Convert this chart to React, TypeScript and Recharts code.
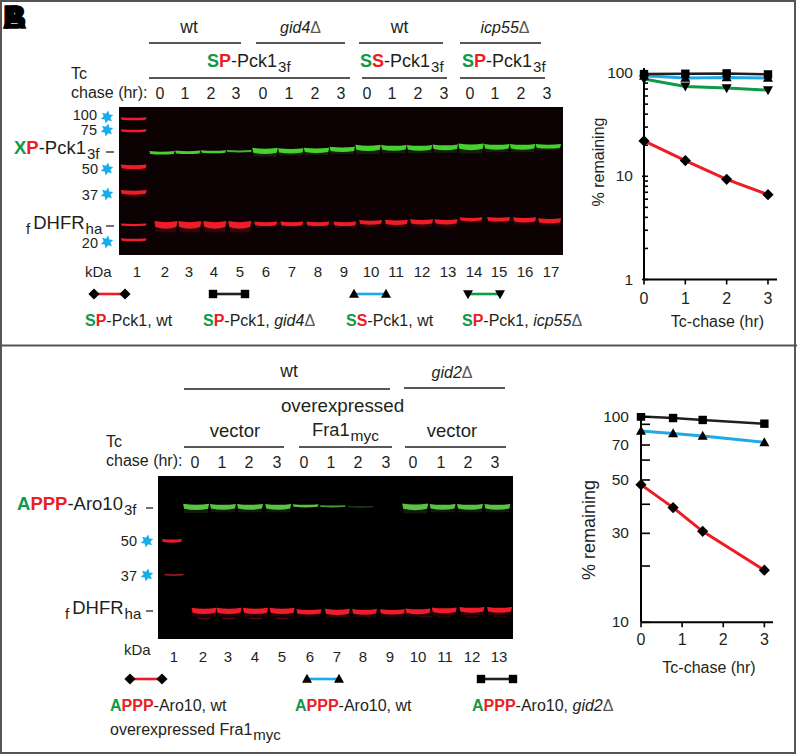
import React from 'react'
import { LineChart, Line, XAxis, YAxis, ScatterChart, Scatter } from 'recharts'

// graph A: % remaining vs chase time
const timesA = [0, 1, 2, 3]
const spWt = [22, 14.2, 9.35, 6.64]
const spGid4 = [97.8, 98.5, 99.3, 97]
const ssWt = [94, 89.5, 90.8, 89.5]
const spIcp55 = [87.5, 74.3, 71.5, 68.4]
const ticksA = [1, 2, 3, 4, 5, 6, 7, 8, 9, 10, 20, 30, 40, 50, 60, 70, 80, 90, 100]
const labelsA = [1, 10, 100]

// graph B
const timesB = [0, 0.78, 1.5, 3]
const apppFra1 = [47.9, 38.7, 30.6, 19]
const apppVector = [83, 80.5, 78.2, 72.3]
const apppGid2 = [100.5, 98.5, 95.8, 90.8]
const ticksB = [10, 20, 30, 40, 50, 60, 70, 90, 100]
const labelsB = [10, 30, 50, 70, 100]

// the printed y axis of graph B is not a true log axis, so its spacing is read off the picture:
// axis value and how far up the axis it sits (0 bottom, 1 top)
const axisValuesB = [10, 20, 30, 40, 50, 60, 70, 90, 100, 105]
const axisHeightsB = [0, 0.269, 0.425, 0.564, 0.68, 0.775, 0.847, 0.946, 0.981, 1]

// blot A: lanes, migration from gel top, relative signal
const lanesA = [2, 3, 4, 5, 6, 7, 8, 9, 10, 11, 12, 13, 14, 15, 16, 17]
const greenMigA = [46, 45.5, 45, 44.5, 44, 44, 43.5, 42.5, 41, 41, 41, 40.5, 40, 40, 40, 39.5]
const greenSignalA = [0.33, 0.33, 0.25, 0.17, 0.75, 0.6, 0.6, 0.6, 0.8, 0.7, 0.7, 0.7, 0.85, 0.7, 0.7, 0.5]
const redLanesA = [2.15, 3.08, 4.05, 5.02, 6.03, 7.04, 8.05, 9.1, 10.1, 11.1, 12.08, 13.03, 14, 15.07, 16.08, 17.05]
const redMigA = [118, 118, 118, 118, 117, 117, 117, 117, 115.5, 115.5, 115, 115, 112.5, 112.5, 113, 114]
const redSignalA = [1, 1, 1, 1, 0.5, 0.5, 0.5, 0.5, 0.55, 0.6, 0.65, 0.65, 0.45, 0.5, 0.6, 0.65]
const ladderLaneA = [0.9, 0.9, 0.9, 0.9, 0.9, 0.9]
const ladderMigA = [12, 24, 60, 85.5, 118, 133]
const ladderSignalA = [0.25, 0.25, 0.5, 0.55, 0.2, 0.25]

// blot B
const greenLanesB = [2, 2.98, 3.97, 5, 6, 6.99, 8, 10, 11, 12, 13]
const greenMigB = [31, 31, 31, 31, 30, 30.5, 31, 31, 31, 31, 31]
const greenSignalB = [0.8, 0.7, 0.7, 0.7, 0.3, 0.15, 0.04, 0.85, 0.7, 0.7, 0.7]
const redLanesB = [2.29, 3.2, 4.17, 5.14, 6.12, 7.16, 8.15, 9.17, 10.1, 11.06, 12.07, 13.08]
const redMigB = [135, 135, 135, 135, 136, 136, 136, 136, 135.5, 134.5, 134, 134]
const redSignalB = [0.75, 0.75, 0.75, 0.75, 0.6, 0.75, 0.7, 0.65, 0.7, 0.7, 0.7, 0.7]
const faintLanesB = [2.29, 3.2, 4.17, 5.14, 10.4, 11.06, 12.07, 13.08]
const faintMigB = [142.5, 142.5, 142.5, 142.5, 141, 141, 141, 141]
const faintSignalB = [0.05, 0.05, 0.05, 0.05, 0.02, 0.02, 0.02, 0.02]
const ladderLaneB = [1.12, 1.2]
const ladderMigB = [65, 99]
const ladderSignalB = [0.4, 0.12]

const RED = '#ee1c25'
const GREEN = '#0f9a48'
const BLUE = '#1fa9e6'
const INK = '#231f20'
const FONT = '"Liberation Sans", Arial, sans-serif'

const rows = (lanes: number[], mig: number[], signal: number[]) =>
  lanes.map((lane, i) => ({ lane, migration: mig[i], signal: signal[i] }))

// piecewise log scale with the d3 surface recharts asks for
function printedScale(values: number[], heights: number[]) {
  let dom = [values[0], values[values.length - 1]]
  let rng = [0, 1]
  const s: any = (v: number) => {
    let i = 0
    while (i < values.length - 2 && v > values[i + 1]) i++
    const f = (Math.log10(v) - Math.log10(values[i])) / (Math.log10(values[i + 1]) - Math.log10(values[i]))
    const h = heights[i] + f * (heights[i + 1] - heights[i])
    return rng[0] + h * (rng[1] - rng[0])
  }
  s.domain = (d?: number[]) => (d ? ((dom = d), s) : dom)
  s.range = (r?: number[]) => (r ? ((rng = r), s) : rng)
  s.copy = () => printedScale(values, heights)
  s.ticks = () => values
  return s
}

const bandShape = (color: string, width: number) => (props: any) => {
  const { cx, cy, payload } = props
  const h = 1 + payload.signal * 6
  const x0 = cx - width / 2
  const x1 = cx + width / 2
  const top = cy - h / 2
  const bot = cy + h / 2
  const d = `M${x0},${top - 0.4} Q${cx},${top + h * 0.25} ${x1},${top - 0.4} L${x1 - 1},${bot - h * 0.2} Q${cx},${bot + h * 0.25} ${x0 + 1},${bot - h * 0.2} Z`
  return (
    <g style={{ filter: 'blur(0.45px)' }}>
      <path d={d} fill={color} opacity={Math.min(1, 0.2 + payload.signal * 4)} />
      {payload.signal > 0.4 && <rect x={x0 + 1} y={bot - 1} width={width - 2} height={h * 0.7} fill={color} opacity={0.15} />}
    </g>
  )
}

const mark = (kind: string, cx: number, cy: number, key?: any) => {
  if (kind === 'diamond') return <path key={key} d={`M${cx},${cy - 5.6} L${cx + 5.6},${cy} L${cx},${cy + 5.6} L${cx - 5.6},${cy} Z`} fill="#000" />
  if (kind === 'square') return <rect key={key} x={cx - 4.2} y={cy - 4.2} width={8.4} height={8.4} fill="#000" />
  if (kind === 'up') return <path key={key} d={`M${cx},${cy - 5.2} L${cx + 5},${cy + 3.8} L${cx - 5},${cy + 3.8} Z`} fill="#000" />
  return <path key={key} d={`M${cx},${cy + 5.2} L${cx + 5},${cy - 3.8} L${cx - 5},${cy - 3.8} Z`} fill="#000" />
}
const dotOf = (kind: string) => (p: any) => mark(kind, p.cx, p.cy, p.index)

const logTick = (labels: number[], outer: number, inner: number, gap: number) => (p: any) => {
  const { x, y, payload } = p
  const major = labels.includes(payload.value)
  return (
    <g>
      <line x1={major ? x - outer : x} x2={x + inner} y1={y} y2={y} stroke="#000" strokeWidth={1.6} />
      {major && (
        <text x={x - gap} y={y + 5} textAnchor="end" fontSize={15.5} fontFamily={FONT} fill={INK}>
          {payload.value}
        </text>
      )}
    </g>
  )
}

function T({ x, y, size = 16, anchor = 'start', rotate = 0, children }: any) {
  const tx = anchor === 'middle' ? '-50%' : anchor === 'end' ? '-100%' : '0'
  return (
    <div
      style={{
        position: 'absolute',
        left: x,
        top: y,
        fontSize: size,
        lineHeight: 1,
        whiteSpace: 'nowrap',
        color: INK,
        transform: `translate(${tx}, -50%) rotate(${rotate}deg)`,
      }}
    >
      {children}
    </div>
  )
}

const Sub = ({ children, size = 15 }: any) => (
  <span style={{ fontSize: size, position: 'relative', top: 5, marginLeft: 1 }}>{children}</span>
)
const Hue = ({ c, children }: any) => <b style={{ color: c }}>{children}</b>
const Del = ({ name }: any) => (
  <span>
    <i>{name}</i>
    <span style={{ color: '#58595b' }}>Δ</span>
  </span>
)
const SP = () => (
  <>
    <Hue c={GREEN}>S</Hue>
    <Hue c={RED}>P</Hue>
  </>
)
const SS = () => (
  <>
    <Hue c={GREEN}>S</Hue>
    <Hue c={RED}>S</Hue>
  </>
)
const APPP = () => (
  <>
    <Hue c={GREEN}>A</Hue>
    <Hue c={RED}>PPP</Hue>
  </>
)

const star = (cx: number, cy: number) => {
  const pts: string[] = []
  for (let i = 0; i < 12; i++) {
    const r = i % 2 === 0 ? 6.6 : 3.4
    const a = (Math.PI / 6) * i + 0.2
    pts.push(`${cx + r * Math.sin(a)},${cy - r * Math.cos(a)}`)
  }
  return <polygon key={`${cx}-${cy}`} points={pts.join(' ')} fill="#16aeea" />
}

const hrules = [
  [149, 241, 43], [256, 345, 43], [359, 443, 43], [460, 541, 43],
  [149, 350, 78], [362, 447, 78], [460, 545, 78],
  [184, 390, 389], [404, 505, 388],
  [184, 284, 447], [299, 392, 447], [405, 506, 447],
  [106, 114, 152], [106, 114, 226], [146, 153, 508], [146, 153, 611],
]
const legendKeys: [string, string, number, number, number][] = [
  ['diamond', RED, 94, 125, 294],
  ['square', INK, 213, 245, 294],
  ['up', BLUE, 354, 386, 294],
  ['down', GREEN, 468, 500, 294],
  ['diamond', RED, 130, 162, 679],
  ['up', BLUE, 307, 339, 679],
  ['square', INK, 481, 513, 679],
]
const stars = [[107, 117], [107, 130], [107, 169], [107, 194], [107, 242], [147, 541], [147, 575]]

const chaseA = [0, 1, 2, 3, 0, 1, 2, 3, 0, 1, 2, 3, 0, 1, 2, 3]
const chaseXA = [160, 185, 211, 236, 263, 289, 315, 341, 367, 392, 418, 444, 470, 495, 521, 547]
const chaseB = [0, 1, 2, 3, 0, 1, 2, 3, 0, 1, 2, 3]
const chaseXB = [195, 222, 249, 277, 304, 331, 358, 386, 413, 441, 468, 495]
const laneXA = [137, 165, 189, 214, 240, 266, 292, 318, 344, 371, 396, 422, 448, 474, 499, 525, 551]
const laneXB = [174, 203, 228, 255, 282, 310, 337, 363, 390, 418, 445, 472, 499]

function Blot({ left, top, width, height, domain, bg, children }: any) {
  return (
    <div style={{ position: 'absolute', left, top }}>
      <ScatterChart width={width} height={height} margin={{ top: 0, right: 0, bottom: 0, left: 0 }} style={{ background: bg }}>
        <XAxis type="number" dataKey="lane" domain={domain} hide />
        <YAxis type="number" dataKey="migration" domain={[0, height]} reversed hide />
        {children}
      </ScatterChart>
    </div>
  )
}

const xTick = { fill: INK, fontSize: 16, fontFamily: FONT }

export default function App() {
  const graphA = timesA.map((t, i) => ({ t, spWt: spWt[i], spGid4: spGid4[i], ssWt: ssWt[i], spIcp55: spIcp55[i] }))
  const graphB = timesB.map((t, i) => ({ t, fra1: apppFra1[i], vector: apppVector[i], gid2: apppGid2[i] }))

  return (
    <div style={{ position: 'fixed', left: 0, top: 0, width: 797, height: 755, background: '#fff', fontFamily: FONT, overflow: 'hidden' }}>
      <Blot left={119} top={107} width={444} height={148} domain={[0.33, 17.57]} bg="#0c0203">
        <Scatter data={rows(ladderLaneA, ladderMigA, ladderSignalA)} shape={bandShape('#f01c28', 26)} isAnimationActive={false} />
        <Scatter data={rows(lanesA, greenMigA, greenSignalA)} shape={bandShape('#46d130', 25.5)} isAnimationActive={false} />
        <Scatter data={rows(redLanesA, redMigA, redSignalA)} shape={bandShape('#f01c28', 23)} isAnimationActive={false} />
      </Blot>
      <Blot left={158} top={476} width={355} height={163} domain={[0.61, 13.57]} bg="#000">
        <Scatter data={rows(ladderLaneB, ladderMigB, ladderSignalB)} shape={bandShape('#e81c2c', 20)} isAnimationActive={false} />
        <Scatter data={rows(greenLanesB, greenMigB, greenSignalB)} shape={bandShape('#5cc244', 26)} isAnimationActive={false} />
        <Scatter data={rows(redLanesB, redMigB, redSignalB)} shape={bandShape('#f01c2c', 25)} isAnimationActive={false} />
        <Scatter data={rows(faintLanesB, faintMigB, faintSignalB)} shape={bandShape('#c81c2c', 14)} isAnimationActive={false} />
      </Blot>

      <div style={{ position: 'absolute', left: 580, top: 50 }}>
        <LineChart width={210} height={265} data={graphA} margin={{ top: 18, right: 13, bottom: 0, left: 0 }}>
          <XAxis type="number" dataKey="t" domain={[0, 3.218]} ticks={timesA} stroke="#000" strokeWidth={2} tickSize={5} tickMargin={8} tickLine={{ stroke: '#000', strokeWidth: 1.6 }} tick={xTick} height={35.5} />
          <YAxis scale="log" domain={[1, 112]} allowDataOverflow ticks={ticksA} interval={0} width={64} stroke="#000" strokeWidth={2} tickLine={false} tickSize={0} tickMargin={0} tick={logTick(labelsA, 2, 4, 11)} />
          <Line dataKey="spWt" stroke={RED} strokeWidth={3} dot={dotOf('diamond')} isAnimationActive={false} />
          <Line dataKey="spIcp55" stroke={GREEN} strokeWidth={3} dot={dotOf('down')} isAnimationActive={false} />
          <Line dataKey="ssWt" stroke={BLUE} strokeWidth={3} dot={dotOf('up')} isAnimationActive={false} />
          <Line dataKey="spGid4" stroke={INK} strokeWidth={2.5} dot={dotOf('square')} isAnimationActive={false} />
        </LineChart>
      </div>

      <div style={{ position: 'absolute', left: 570, top: 400 }}>
        <LineChart width={220} height={257} data={graphB} margin={{ top: 13, right: 17, bottom: 0, left: 0 }}>
          <XAxis type="number" dataKey="t" domain={[0, 3.21]} ticks={timesA} stroke="#000" strokeWidth={2} tickSize={5} tickMargin={6} tickLine={{ stroke: '#000', strokeWidth: 1.6 }} tick={xTick} height={34.7} />
          <YAxis scale={printedScale(axisValuesB, axisHeightsB)} type="number" domain={[10, 105]} allowDataOverflow ticks={ticksB} interval={0} width={71} stroke="#000" strokeWidth={2} tickLine={false} tickSize={0} tickMargin={0} tick={logTick(labelsB, 0, 9, 12)} />
          <Line dataKey="fra1" stroke={RED} strokeWidth={3} dot={dotOf('diamond')} isAnimationActive={false} />
          <Line dataKey="vector" stroke={BLUE} strokeWidth={3} dot={dotOf('up')} isAnimationActive={false} />
          <Line dataKey="gid2" stroke={INK} strokeWidth={2.5} dot={dotOf('square')} isAnimationActive={false} />
        </LineChart>
      </div>

      <svg width={797} height={755} style={{ position: 'absolute', left: 0, top: 0, pointerEvents: 'none' }}>
        <rect x={1} y={1} width={794} height={752} fill="none" stroke="#555" strokeWidth={2} />
        <line x1={0} x2={797} y1={345.5} y2={345.5} stroke="#555" strokeWidth={2} />
        {hrules.map(([a, b, y], i) => (
          <line key={i} x1={a} x2={b} y1={y} y2={y} stroke={INK} strokeWidth={1.3} />
        ))}
        {stars.map(([x, y]) => star(x, y))}
        {legendKeys.map(([kind, color, a, b, y], i) => (
          <g key={i}>
            <line x1={a} x2={b} y1={y} y2={y} stroke={color} strokeWidth={2.6} />
            {mark(kind, a, y)}
            {mark(kind, b, y)}
          </g>
        ))}
      </svg>

      <T x={3} y={17} size={32}><b style={{ color: '#000', WebkitTextStroke: '1.4px #000' }}>A</b></T>
      <T x={3} y={17} size={32}><b style={{ color: '#000', WebkitTextStroke: '1.4px #000' }}>B</b></T>

      {/* panel A headers */}
      <T x={189} y={28} size={17.5} anchor="middle">wt</T>
      <T x={300.5} y={28} anchor="middle"><Del name="gid4" /></T>
      <T x={399.5} y={28} size={17.5} anchor="middle">wt</T>
      <T x={505} y={28} anchor="middle"><Del name="icp55" /></T>
      <T x={207} y={61} size={18}><SP />-Pck1<Sub>3f</Sub></T>
      <T x={360} y={61} size={18}><SS />-Pck1<Sub>3f</Sub></T>
      <T x={462} y={61} size={18}><SP />-Pck1<Sub>3f</Sub></T>
      <T x={71} y={74}>Tc</T>
      <T x={71} y={93}>chase (hr):</T>
      {chaseA.map((v, i) => <T key={i} x={chaseXA[i]} y={94} anchor="middle">{v}</T>)}
      <T x={97} y={115} size={14.5} anchor="end">100</T>
      <T x={97} y={130} size={14.5} anchor="end">75</T>
      <T x={98} y={169} size={14.5} anchor="end">50</T>
      <T x={98} y={195} size={14.5} anchor="end">37</T>
      <T x={98} y={243} size={14.5} anchor="end">20</T>
      <T x={14} y={148} size={18.5}><Hue c={GREEN}>X</Hue><Hue c={RED}>P</Hue>-Pck1<Sub>3f</Sub></T>
      <T x={25} y={222.5} size={18.5}><Sub>f</Sub><span style={{ marginLeft: 3 }}>DHFR</span><Sub>ha</Sub></T>
      <T x={85} y={271} size={15}>kDa</T>
      {laneXA.map((x, i) => <T key={i} x={x} y={271} size={15} anchor="middle">{i + 1}</T>)}
      <T x={85} y={321}><SP />-Pck1, wt</T>
      <T x={203} y={321}><SP />-Pck1, <Del name="gid4" /></T>
      <T x={346} y={321}><SS />-Pck1, wt</T>
      <T x={462} y={321}><SP />-Pck1, <Del name="icp55" /></T>
      <T x={717.5} y={322} anchor="middle">Tc-chase (hr)</T>
      <T x={599} y={162} anchor="middle" rotate={-90}>% remaining</T>

      {/* panel B headers */}
      <T x={289} y={372} size={17.5} anchor="middle">wt</T>
      <T x={452} y={373} anchor="middle"><Del name="gid2" /></T>
      <T x={342.5} y={406} size={18.8} anchor="middle">overexpressed</T>
      <T x={235} y={431} size={18.5} anchor="middle">vector</T>
      <T x={312} y={430} size={18.3}>Fra1<Sub size={15.5}>myc</Sub></T>
      <T x={452} y={431} size={18.5} anchor="middle">vector</T>
      <T x={106} y={442}>Tc</T>
      <T x={106} y={461}>chase (hr):</T>
      {chaseB.map((v, i) => <T key={i} x={chaseXB[i]} y={463} anchor="middle">{v}</T>)}
      <T x={17} y={504} size={18.5}><APPP />-Aro10<Sub>3f</Sub></T>
      <T x={137} y={541} size={14.5} anchor="end">50</T>
      <T x={137} y={576} size={14.5} anchor="end">37</T>
      <T x={64} y={608} size={18.5}><Sub>f</Sub><span style={{ marginLeft: 3 }}>DHFR</span><Sub>ha</Sub></T>
      <T x={124} y={649} size={15}>kDa</T>
      {laneXB.map((x, i) => <T key={i} x={x} y={656} size={15} anchor="middle">{i + 1}</T>)}
      <T x={110} y={706}><APPP />-Aro10, wt</T>
      <T x={110} y={730}>overexpressed Fra1<Sub>myc</Sub></T>
      <T x={295} y={706}><APPP />-Aro10, wt</T>
      <T x={472} y={706}><APPP />-Aro10, <Del name="gid2" /></T>
      <T x={709} y={668} anchor="middle">Tc-chase (hr)</T>
      <T x={589} y={530} anchor="middle" rotate={-90} size={18}>% remaining</T>
    </div>
  )
}
